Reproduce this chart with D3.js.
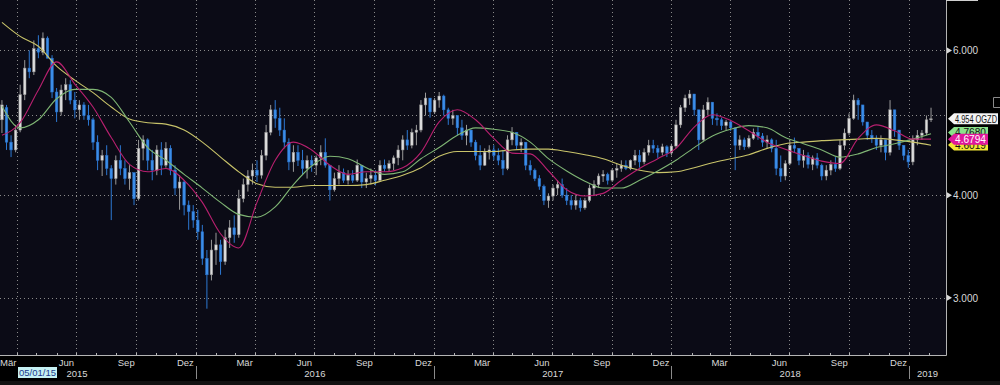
<!DOCTYPE html>
<html>
<head>
<meta charset="utf-8">
<script src="https://cdn.jsdelivr.net/npm/d3@7/dist/d3.min.js"></script>
<style>
  html, body {margin: 0; padding: 0; background: #000;}
  svg {display: block;}
  text {font-family: "Liberation Sans", Arial, sans-serif;}
</style>
</head>
<body>
<svg id="chart" width="1000" height="385"></svg>
<script>

//Weekly candles, first one is the week of 09/03/2015
const firstWeek = new Date(2015, 2, 9);

const weekOpen = [4.94,5.11,4.64,4.54,4.80,5.30,5.71,5.65,6.03,5.97,6.21,5.87,5.34,5.05,5.37,5.45,5.22,5.08,5.15,5.00,
  4.94,4.64,4.41,4.47,4.31,4.19,4.41,4.31,4.19,4.26,3.96,4.56,4.67,4.41,4.29,4.54,4.35,4.56,4.29,4.08,
  4.15,3.89,3.82,3.73,3.61,3.35,3.20,3.43,3.48,3.32,3.55,3.65,3.58,3.96,4.12,4.22,4.29,4.23,4.47,4.77,
  5.08,4.96,4.80,4.64,4.39,4.51,4.41,4.31,4.41,4.35,4.44,4.51,4.35,4.06,4.19,4.26,4.17,4.23,4.17,4.35,
  4.15,4.19,4.23,4.17,4.35,4.31,4.37,4.44,4.54,4.67,4.60,4.77,4.80,5.15,5.25,5.05,5.22,5.28,5.08,4.96,
  5.00,4.83,4.73,4.80,4.64,4.47,4.35,4.51,4.54,4.47,4.41,4.31,4.67,4.77,4.60,4.64,4.35,4.29,4.19,4.10,
  3.94,3.99,4.08,4.12,4.00,3.94,3.89,3.94,3.86,3.94,4.08,4.12,4.22,4.24,4.17,4.29,4.31,4.35,4.31,4.41,
  4.47,4.39,4.51,4.60,4.56,4.51,4.58,4.50,4.59,4.87,5.11,5.25,5.31,5.08,4.67,5.08,5.19,4.96,4.94,4.86,
  4.91,4.83,4.60,4.67,4.58,4.69,4.77,4.72,4.64,4.67,4.56,4.31,4.22,4.37,4.60,4.56,4.41,4.47,4.36,4.44,
  4.35,4.22,4.29,4.36,4.31,4.60,4.76,4.96,5.22,5.15,4.91,4.73,4.69,4.60,4.67,4.51,5.08,4.80,4.60,4.47,
  4.39,4.67,4.73,4.76,4.94];
const weekHigh = [5.22,5.15,4.73,4.87,5.45,5.84,6.00,6.17,6.26,6.31,6.24,5.92,5.40,5.45,5.55,5.52,5.34,5.22,5.19,5.15,
  4.97,4.73,4.54,4.60,4.35,4.47,4.60,4.41,4.35,4.26,4.67,4.73,4.69,4.54,4.60,4.64,4.64,4.60,4.35,4.23,
  4.17,3.94,3.89,3.84,3.68,3.43,3.53,3.60,3.53,3.63,3.73,3.78,4.06,4.19,4.29,4.37,4.41,4.54,4.87,5.15,
  5.22,5.11,4.96,4.69,4.60,4.60,4.54,4.47,4.47,4.47,4.60,4.69,4.35,4.26,4.35,4.31,4.29,4.29,4.42,4.35,
  4.26,4.31,4.29,4.41,4.42,4.41,4.47,4.60,4.73,4.80,4.82,4.87,5.22,5.33,5.25,5.25,5.34,5.30,5.11,5.08,
  5.00,4.94,4.87,4.80,4.67,4.60,4.56,4.60,4.60,4.56,4.54,4.73,4.84,4.77,4.69,4.64,4.41,4.31,4.23,4.12,
  4.02,4.12,4.17,4.19,4.08,4.00,4.00,3.97,3.97,4.12,4.17,4.25,4.29,4.26,4.31,4.37,4.41,4.41,4.42,4.54,
  4.54,4.56,4.67,4.67,4.60,4.62,4.60,4.62,4.94,5.15,5.30,5.37,5.31,5.08,5.15,5.26,5.19,5.03,4.97,4.94,
  4.94,4.83,4.73,4.70,4.73,4.82,4.84,4.76,4.73,4.69,4.67,4.47,4.41,4.67,4.70,4.56,4.54,4.51,4.47,4.50,
  4.37,4.35,4.41,4.45,4.67,4.82,5.03,5.30,5.25,5.15,4.91,4.80,4.73,4.73,4.67,5.22,5.08,4.80,4.60,4.54,
  4.73,4.80,4.80,5.00,5.11];
const weekLow = [4.76,4.54,4.45,4.51,4.77,5.22,5.55,5.60,5.87,5.92,5.87,5.25,4.91,5.00,5.22,5.16,4.96,4.94,4.94,4.86,
  4.54,4.29,4.22,4.23,3.73,4.12,4.23,4.12,4.06,3.89,3.94,4.41,4.29,4.17,4.23,4.23,4.32,4.23,4.00,3.84,
  3.78,3.63,3.65,3.53,3.29,2.91,3.15,3.29,3.20,3.29,3.45,3.50,3.55,3.92,4.04,4.12,4.15,4.19,4.41,4.73,
  4.83,4.72,4.56,4.29,4.27,4.34,4.23,4.19,4.27,4.23,4.35,4.32,3.94,4.04,4.12,4.14,4.12,4.14,4.15,4.08,
  4.08,4.12,4.11,4.15,4.27,4.27,4.29,4.35,4.41,4.54,4.56,4.60,4.77,5.00,4.97,5.02,5.11,5.00,4.87,4.87,
  4.73,4.67,4.60,4.58,4.41,4.29,4.34,4.42,4.41,4.35,4.23,4.29,4.60,4.54,4.51,4.29,4.23,4.16,4.06,3.89,
  3.86,3.94,4.00,3.97,3.89,3.84,3.84,3.82,3.84,3.92,4.00,4.08,4.15,4.12,4.15,4.20,4.27,4.29,4.29,4.35,
  4.32,4.36,4.47,4.50,4.44,4.47,4.45,4.47,4.56,4.83,5.05,5.15,5.00,4.54,4.64,5.00,4.87,4.86,4.80,4.80,
  4.79,4.29,4.54,4.54,4.56,4.67,4.67,4.58,4.56,4.51,4.23,4.15,4.17,4.35,4.51,4.35,4.32,4.31,4.29,4.31,
  4.17,4.17,4.23,4.27,4.29,4.54,4.73,4.94,4.94,4.86,4.67,4.63,4.54,4.51,4.41,4.47,4.71,4.54,4.41,4.32,
  4.35,4.60,4.67,4.73,4.91];
const weekClose = [5.15,4.64,4.54,4.80,5.30,5.71,5.65,6.03,5.97,6.21,5.87,5.34,5.05,5.37,5.45,5.22,5.08,5.15,5.00,4.94,
  4.64,4.41,4.47,4.31,4.19,4.41,4.31,4.19,4.26,3.96,4.56,4.67,4.41,4.29,4.54,4.35,4.56,4.29,4.08,4.15,
  3.89,3.82,3.73,3.61,3.35,3.20,3.43,3.48,3.32,3.55,3.65,3.58,3.96,4.12,4.22,4.29,4.23,4.47,4.77,5.08,
  4.96,4.80,4.64,4.39,4.51,4.41,4.31,4.41,4.35,4.44,4.51,4.35,4.06,4.19,4.26,4.17,4.23,4.17,4.35,4.15,
  4.19,4.23,4.17,4.35,4.31,4.37,4.44,4.54,4.67,4.60,4.77,4.80,5.15,5.25,5.05,5.22,5.28,5.08,4.96,5.00,
  4.83,4.73,4.80,4.64,4.47,4.35,4.51,4.54,4.47,4.41,4.31,4.67,4.77,4.60,4.64,4.35,4.29,4.19,4.10,3.94,
  3.99,4.08,4.12,4.00,3.94,3.89,3.94,3.86,3.94,4.08,4.12,4.22,4.24,4.17,4.29,4.31,4.35,4.31,4.41,4.47,
  4.39,4.51,4.60,4.56,4.51,4.58,4.50,4.59,4.87,5.11,5.25,5.31,5.08,4.67,5.08,5.19,4.96,4.94,4.86,4.91,
  4.83,4.60,4.67,4.58,4.69,4.77,4.72,4.64,4.67,4.56,4.31,4.22,4.37,4.60,4.56,4.41,4.47,4.36,4.44,4.35,
  4.22,4.29,4.36,4.31,4.60,4.76,4.96,5.22,5.15,4.91,4.73,4.69,4.60,4.67,4.51,5.08,4.80,4.60,4.47,4.39,
  4.67,4.73,4.76,4.94,4.954];

//Moving averages, read every 4th week (week index given in maWeeks)
const maWeeks = d3.range(0, 205, 4);
const maFast = [4.73,4.90,5.37,5.81,5.46,5.12,4.70,4.36,4.27,4.31,4.17,3.92,3.59,3.45,3.92,4.41,4.64,4.54,4.35,4.24,
  4.27,4.27,4.32,4.51,4.91,5.08,4.94,4.69,4.50,4.49,4.28,4.06,3.99,4.02,4.17,4.31,4.43,4.56,4.84,5.01,
  4.93,4.79,4.64,4.55,4.47,4.40,4.37,4.69,4.87,4.79,4.68,4.68];
const maMid = [5.13,4.83,4.94,5.24,5.38,5.38,5.26,4.91,4.57,4.41,4.24,4.08,3.92,3.79,3.76,3.87,4.12,4.34,4.46,4.43,
  4.32,4.24,4.27,4.43,4.57,4.73,4.83,4.81,4.77,4.64,4.43,4.28,4.16,4.08,4.08,4.17,4.28,4.41,4.57,4.72,
  4.81,4.86,4.83,4.70,4.62,4.54,4.45,4.49,4.57,4.62,4.68,4.75];
const maSlow = [6.49,6.24,6.07,5.74,5.52,5.33,5.12,4.95,4.90,4.88,4.80,4.64,4.45,4.27,4.13,4.09,4.09,4.11,4.11,4.11,
  4.12,4.17,4.23,4.32,4.46,4.52,4.52,4.52,4.54,4.55,4.55,4.52,4.48,4.43,4.35,4.29,4.26,4.27,4.32,4.38,
  4.43,4.48,4.56,4.62,4.64,4.66,4.67,4.68,4.69,4.67,4.64,4.60];

//Axis texts
const gridPrices = [3, 4, 5, 6];
const labelPrices = [3, 4, 6]; //5.000 sits under the last price tag
const monthNames = ["Jan","Feb","Mär","Apr","Mai","Jun","Jul","Aug","Sep","Okt","Nov","Dez"];
const yearLabels = ["2015","2016","2017","2018","2019"];
const startLabel = "05/01/15";
const ticker = "OGZD";
//Last values shown in the tags on the right (drawn in this order, magenta on top)
const lastTags = [
  {value: 4.7680, fill: "#8be28b", color: "#111"},
  {value: 4.6019, fill: "#f2e634", color: "#111"},
  {value: 4.6794, fill: "#e0179b", color: "#fff"}
];

//Plot area dimensions
const plotW = 946, plotH = 355;

const svg = d3.select("#chart");

const x = d3.scaleTime()
    .domain([new Date(2015, 2, 6), new Date(2019, 1, 27)])
    .range([0, plotW]);

const y = d3.scaleLog()
    .domain([2.556, 6.91])
    .range([plotH, 0]);

const weekDate = i => d3.timeDay.offset(firstWeek, 7 * i);

//------------------------------background()-----------------------------------

function background() {
  svg.append("rect").attr("width", 1000).attr("height", 385).attr("fill", "#000");
  svg.append("rect").attr("width", plotW).attr("height", plotH).attr("fill", "#0b0b16");

  svg.append("defs").append("clipPath").attr("id", "plotClip")
    .append("rect").attr("width", plotW).attr("height", plotH);
}

//--------------------------------grid()---------------------------------------

function grid() {
  let g = svg.append("g").attr("class", "grid");

  //Quarter starts get a dotted vertical line
  let quarters = d3.timeMonth.every(3).range(x.domain()[0], x.domain()[1]);
  g.selectAll("line.v").data(quarters).enter().append("line")
      .attr("class", "v")
      .attr("x1", d => Math.round(x(d)) + 0.5).attr("x2", d => Math.round(x(d)) + 0.5)
      .attr("y1", 0).attr("y2", plotH)
      .attr("stroke", "#8a8a8a").attr("stroke-width", 1)
      .attr("stroke-dasharray", "1,3");

  g.selectAll("line.h").data(gridPrices).enter().append("line")
      .attr("class", "h")
      .attr("x1", 0).attr("x2", plotW)
      .attr("y1", d => Math.round(y(d)) + 0.5).attr("y2", d => Math.round(y(d)) + 0.5)
      .attr("stroke", "#8a8a8a").attr("stroke-width", 1)
      .attr("stroke-dasharray", "1,3");
}

//--------------------------------candles()------------------------------------

function candles() {
  let data = weekClose.map((c, i) => ({
    date: weekDate(i), open: weekOpen[i], high: weekHigh[i], low: weekLow[i], close: c
  }));
  let bodyW = 2.6;

  let g = svg.append("g").attr("clip-path", "url(#plotClip)");

  let candle = g.selectAll("g.candle").data(data).enter().append("g")
      .attr("class", "candle");

  //Wick
  candle.append("line")
      .attr("x1", d => x(d.date)).attr("x2", d => x(d.date))
      .attr("y1", d => y(d.high)).attr("y2", d => y(d.low))
      .attr("stroke", d => d.close >= d.open ? "#9a9a9a" : "#2d78d2")
      .attr("stroke-width", 1);

  //Body, white when up and blue when down
  candle.append("rect")
      .attr("x", d => x(d.date) - bodyW / 2)
      .attr("width", bodyW)
      .attr("y", d => y(Math.max(d.open, d.close)))
      .attr("height", d => Math.max(1, Math.abs(y(d.open) - y(d.close))))
      .attr("fill", d => d.close >= d.open ? "#dcdcdc" : "#3b8de8")
      .attr("stroke", d => d.close >= d.open ? "#8c8c8c" : "#2a6fc4")
      .attr("stroke-width", 0.5);
}

//------------------------------movingAvgs()-----------------------------------

function movingAvgs() {
  let g = svg.append("g").attr("clip-path", "url(#plotClip)");
  let line = d3.line()
      .x((d, i) => x(weekDate(maWeeks[i])))
      .y(d => y(d))
      .curve(d3.curveMonotoneX);

  [[maSlow, "#c9c46a"], [maMid, "#7fb574"], [maFast, "#b8206f"]].forEach(([vals, col]) => {
    g.append("path")
        .attr("d", line(vals))
        .attr("fill", "none")
        .attr("stroke", col)
        .attr("stroke-width", 1.1);
  });
}

//--------------------------------axes()---------------------------------------

function axes() {
  let axisCol = "#b4b4b4";
  let txtCol = "#d8d8d8";

  //Frame lines
  svg.append("line").attr("x1", 0).attr("x2", plotW + 0.5)
      .attr("y1", plotH + 0.5).attr("y2", plotH + 0.5)
      .attr("stroke", axisCol);
  svg.append("line").attr("x1", plotW + 0.5).attr("x2", plotW + 0.5)
      .attr("y1", 0).attr("y2", plotH + 0.5)
      .attr("stroke", axisCol);
  svg.append("line").attr("x1", plotW).attr("x2", 978)
      .attr("y1", 0.5).attr("y2", 0.5)
      .attr("stroke", "#d0d0d0");

  //Price ticks on the right
  let yt = svg.append("g");
  yt.selectAll("path").data(labelPrices).enter().append("path")
      .attr("d", d => `M${plotW + 1},${y(d) - 3}L${plotW + 6},${y(d)}L${plotW + 1},${y(d) + 3}Z`)
      .attr("fill", txtCol);
  yt.selectAll("text").data(labelPrices).enter().append("text")
      .attr("x", plotW + 7)
      .attr("y", d => y(d) + 4)
      .attr("font-size", 10)
      .attr("fill", txtCol)
      .text(d => d3.format(".3f")(d));

  //Month ticks on the time axis
  let months = d3.timeMonth.range(x.domain()[0], x.domain()[1]);
  svg.append("g").selectAll("line").data(months).enter().append("line")
      .attr("x1", d => Math.round(x(d)) + 0.5).attr("x2", d => Math.round(x(d)) + 0.5)
      .attr("y1", plotH - 2).attr("y2", plotH)
      .attr("stroke", axisCol);

  //Labels sit in the middle of the last month of each quarter (March 2015 pinned to the left edge)
  let labelled = d3.timeMonth.range(new Date(2015, 2, 1), x.domain()[1])
      .filter(d => d.getMonth() % 3 === 2);
  svg.append("g").selectAll("text").data(labelled).enter().append("text")
      .attr("x", (d, i) => i === 0 ? 0 : x(d3.timeDay.offset(d, 15)))
      .attr("y", 366)
      .attr("text-anchor", (d, i) => i === 0 ? "start" : "middle")
      .attr("font-size", 9.5)
      .attr("fill", txtCol)
      .text(d => monthNames[d.getMonth()]);

  //Year separators and year names
  let years = yearLabels.map(s => new Date(+s, 0, 1));
  svg.append("g").selectAll("line").data(years.slice(1)).enter().append("line")
      .attr("x1", d => Math.round(x(d)) + 0.5).attr("x2", d => Math.round(x(d)) + 0.5)
      .attr("y1", 366).attr("y2", 379)
      .attr("stroke", "#8a8a8a");

  svg.append("g").selectAll("text").data(years).enter().append("text")
      .attr("x", (d, i) => {
        if (i === 0) return 77;
        let end = Math.min(x(new Date(d.getFullYear() + 1, 0, 1)), plotW);
        return (x(d) + end) / 2;
      })
      .attr("y", 377)
      .attr("text-anchor", "middle")
      .attr("font-size", 9.5)
      .attr("fill", txtCol)
      .text((d, i) => yearLabels[i]);

  //Start date box
  svg.append("rect").attr("x", 18).attr("y", 367).attr("width", 39).attr("height", 11)
      .attr("fill", "#c6f1f3");
  svg.append("text").attr("x", 37.5).attr("y", 376)
      .attr("text-anchor", "middle").attr("font-size", 9.5)
      .attr("fill", "#1a3a8a")
      .text(startLabel);

  //Bottom strip
  svg.append("rect").attr("x", 0).attr("y", 381).attr("width", 1000).attr("height", 4)
      .attr("fill", "#121212");

  //Partly hidden button on the far right
  svg.append("path").attr("d", "M1000,97.5H993.5V107.5H1000")
      .attr("fill", "none").attr("stroke", "#8a8a8a");
}

//--------------------------------tags()---------------------------------------

function tag(yc, w, fill) {
  let x0 = plotW + 2;
  return svg.append("path")
      .attr("d", `M${x0},${yc}L${x0 + 6},${yc - 5.5}H${x0 + w}V${yc + 5.5}H${x0 + 6}Z`)
      .attr("fill", fill);
}

function tags() {
  lastTags.forEach(t => {
    let yc = y(t.value);
    tag(yc, 40, t.fill);
    svg.append("text").attr("x", plotW + 9).attr("y", yc + 4)
        .attr("font-size", 10).attr("fill", t.color)
        .attr("textLength", 31).attr("lengthAdjust", "spacingAndGlyphs")
        .text(d3.format(".4f")(t.value));
  });

  //Last price tag
  let last = weekClose[weekClose.length - 1];
  let yc = y(last);
  tag(yc, 50, "#f4f4f4");
  svg.append("text").attr("x", plotW + 9).attr("y", yc + 4)
      .attr("font-size", 10).attr("fill", "#111")
      .attr("textLength", 42).attr("lengthAdjust", "spacingAndGlyphs")
      .text(d3.format(".3f")(last) + " " + ticker);
}

background();
grid();
candles();
movingAvgs();
axes();
tags();

</script>
</body>
</html>
